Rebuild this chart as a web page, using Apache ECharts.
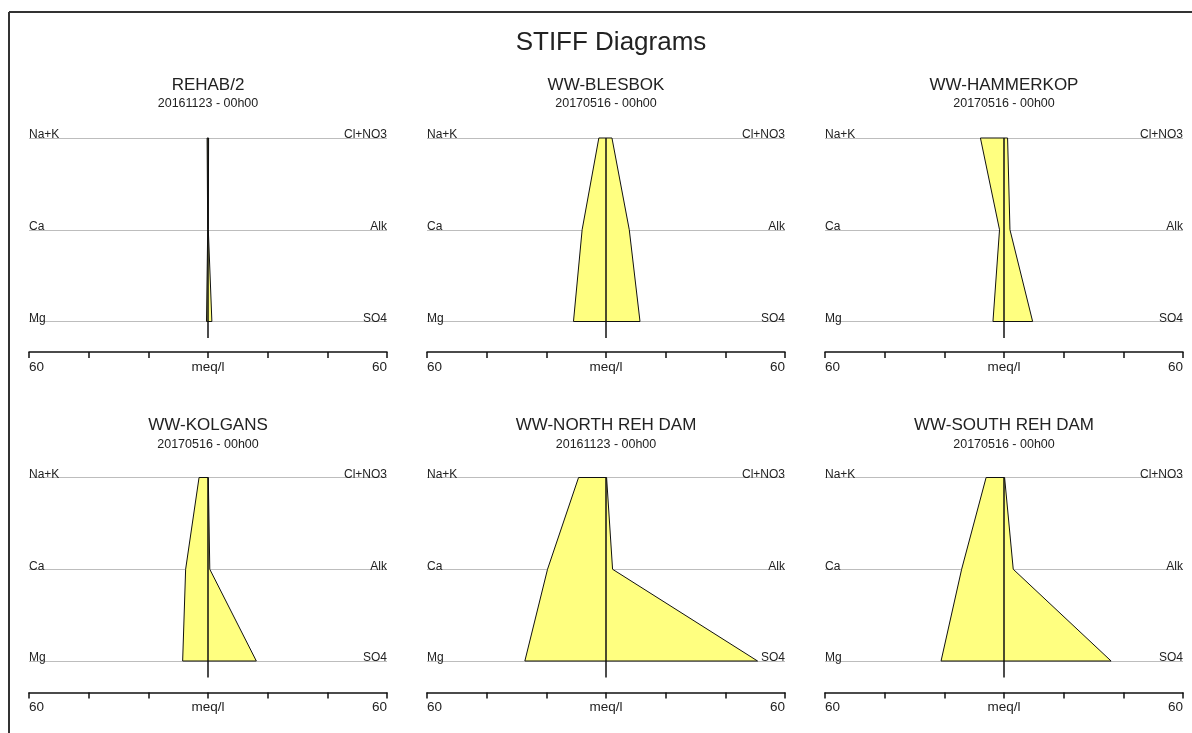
<!DOCTYPE html>
<html>
<head>
<meta charset="utf-8">
<title>STIFF Diagrams</title>
<script src="https://cdn.jsdelivr.net/npm/echarts@6/dist/echarts.min.js"></script>
<style>
  html, body { margin: 0; padding: 0; background: #fff; }
  #chart { width: 1192px; height: 733px; }
</style>
</head>
<body>
<div id="chart"></div>
<script>
// Sampling points and dates
const stations = ['REHAB/2', 'WW-BLESBOK', 'WW-HAMMERKOP', 'WW-KOLGANS', 'WW-NORTH REH DAM', 'WW-SOUTH REH DAM'];
const sampleDates = ['20161123 - 00h00', '20170516 - 00h00', '20170516 - 00h00', '20170516 - 00h00', '20161123 - 00h00', '20170516 - 00h00'];

// Ion pairs on each row of a diagram (cation left, anion right)
const cations = ['Na+K', 'Ca', 'Mg'];
const anions = ['Cl+NO3', 'Alk', 'SO4'];

// Concentrations in meq/l, ordered as the ion lists above
const cationValues = [
  [0.3, 0.1, 0.5],
  [2.4, 8.0, 10.9],
  [7.9, 1.5, 3.7],
  [3.0, 7.5, 8.5],
  [9.2, 19.6, 27.2],
  [6.0, 14.2, 21.1]
];
const anionValues = [
  [0.2, 0.1, 1.3],
  [2.0, 7.8, 11.4],
  [1.2, 2.0, 9.6],
  [0.1, 0.6, 16.2],
  [0.2, 2.2, 50.8],
  [0.2, 3.1, 35.9]
];

// Scale settings
const scaleMax = 60;
const scaleStep = 20;
const unitLabel = 'meq/l';

const FONT = '"Liberation Sans", Arial, sans-serif';
const TEXT = '#222';

const chart = echarts.init(document.getElementById('chart'));

const colLeft = [29, 427, 825];
const panelWidth = 358;
const rowTop = [138, 477.5];
const panelHeight = 183.5;
const axisOffset = [30.5, 31.5];
const titleTop = [76.5, 417];

const grids = [], xAxes = [], yAxes = [], series = [], titles = [];

titles.push({
  text: 'STIFF Diagrams',
  left: 606, top: 25, textAlign: 'center',
  textStyle: { fontFamily: FONT, fontSize: 26, fontWeight: 'normal', color: TEXT }
});

stations.forEach((name, i) => {
  const r = Math.floor(i / 3), c = i % 3;
  grids.push({ left: colLeft[c], top: rowTop[r], width: panelWidth, height: panelHeight });

  titles.push({
    text: name,
    subtext: sampleDates[i],
    left: colLeft[c] + panelWidth / 2, top: titleTop[r], textAlign: 'center', itemGap: 4, padding: 0,
    textStyle: { fontFamily: FONT, fontSize: 17, fontWeight: 'normal', color: TEXT },
    subtextStyle: { fontFamily: FONT, fontSize: 12.5, color: TEXT }
  });

  xAxes.push({
    gridIndex: i, type: 'value', min: -scaleMax, max: scaleMax, interval: scaleStep,
    position: 'bottom', offset: axisOffset[r],
    axisLine: { show: true, onZero: false, lineStyle: { color: '#111', width: 1.5 } },
    axisTick: { show: true, length: 6, lineStyle: { color: '#111', width: 1.5 } },
    splitLine: { show: false },
    axisLabel: {
      margin: 8, fontFamily: FONT, fontSize: 13.5, color: TEXT,
      alignMinLabel: 'left', alignMaxLabel: 'right', showMinLabel: true, showMaxLabel: true,
      formatter: v => v === 0 ? unitLabel : (Math.abs(v) === scaleMax ? String(scaleMax) : '')
    }
  });

  const yBase = {
    gridIndex: i, type: 'value', min: 0, max: cations.length - 1, interval: 1, inverse: true,
    axisLine: { show: false }, axisTick: { show: false }
  };
  yAxes.push(Object.assign({}, yBase, {
    position: 'left',
    splitLine: { show: true, lineStyle: { color: '#bdbdbd', width: 1.2 } },
    axisLabel: {
      inside: true, margin: 0, align: 'left', verticalAlign: 'bottom', lineHeight: 6,
      fontFamily: FONT, fontSize: 12, color: TEXT,
      formatter: v => cations[v] || ''
    }
  }));
  yAxes.push(Object.assign({}, yBase, {
    position: 'right',
    splitLine: { show: false },
    axisLabel: {
      inside: true, margin: 0, align: 'right', verticalAlign: 'bottom', lineHeight: 6,
      fontFamily: FONT, fontSize: 12, color: TEXT,
      formatter: v => anions[v] || ''
    }
  }));

  // Stiff polygon: cations plotted to the left, anions to the right
  const points = [];
  cationValues[i].forEach((v, k) => points.push([-v, k]));
  for (let k = anions.length - 1; k >= 0; k--) points.push([anionValues[i][k], k]);

  series.push({
    type: 'custom', xAxisIndex: i, yAxisIndex: 2 * i, z: 3,
    data: [0], silent: true,
    renderItem: (params, api) => ({
      type: 'polygon',
      shape: { points: points.map(p => api.coord(p)) },
      style: { fill: '#ffff80', stroke: '#111', lineWidth: 1 }
    })
  });

  // Zero line through the middle of the diagram
  series.push({
    type: 'line', xAxisIndex: i, yAxisIndex: 2 * i, z: 4, clip: false,
    symbol: 'none', silent: true,
    data: [[0, 0], [0, cations.length - 1 + 0.18]],
    lineStyle: { color: '#111', width: 1.5 }
  });
});

chart.setOption({
  backgroundColor: '#fff',
  animation: false,
  title: titles,
  grid: grids,
  xAxis: xAxes,
  yAxis: yAxes,
  series: series,
  graphic: [
    { type: 'line', shape: { x1: 9, y1: 12, x2: 1192, y2: 12 }, style: { stroke: '#333', lineWidth: 2 } },
    { type: 'line', shape: { x1: 9, y1: 12, x2: 9, y2: 733 }, style: { stroke: '#333', lineWidth: 2 } }
  ]
});
</script>
</body>
</html>
